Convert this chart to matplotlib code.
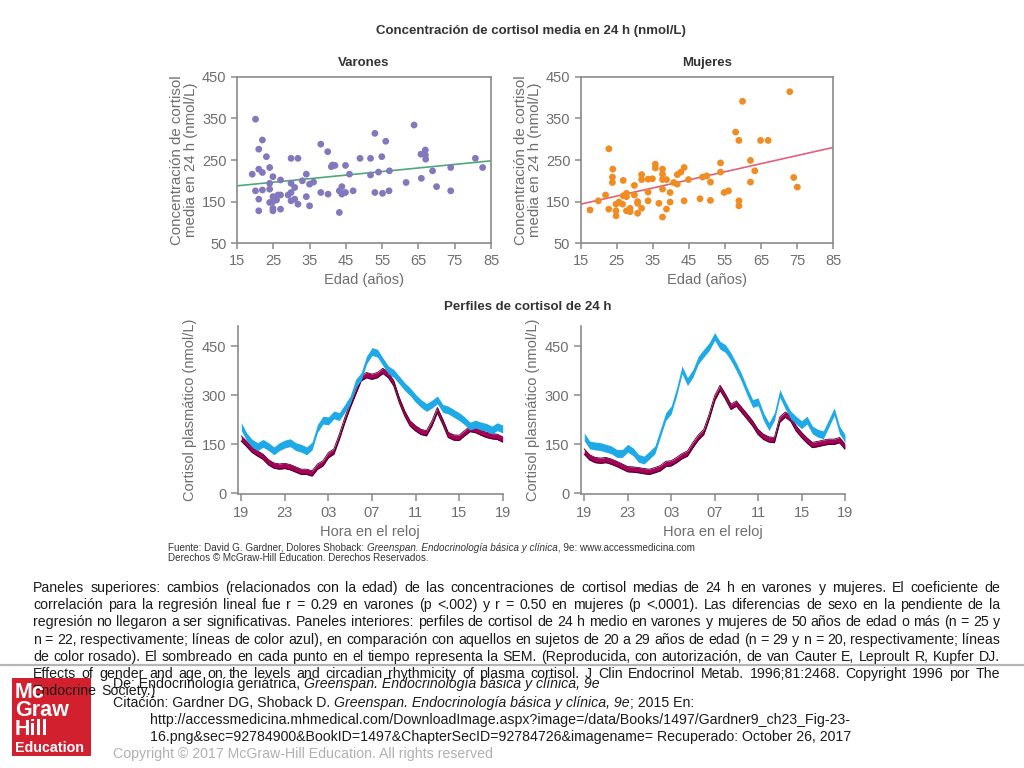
import matplotlib
matplotlib.use('Agg')
import matplotlib.pyplot as plt
from matplotlib.lines import Line2D
from matplotlib.patches import Rectangle

# ---------------- data ----------------
varones_edad = [19.2, 20.1, 20.1, 21.0, 21.0, 21.0, 21.0, 22.0, 22.0, 22.0, 23.1, 24.0, 24.0, 24.0, 24.0,
                24.9, 24.9, 24.9, 24.9, 24.9, 25.9, 25.9, 26.3, 27.0, 27.0, 27.0, 29.1, 29.9, 29.9, 29.9,
                29.9, 30.9, 30.9, 31.8, 31.8, 33.0, 34.1, 34.1, 35.0, 35.0, 36.1, 38.1, 38.1, 40.0, 40.1,
                41.0, 41.3, 42.0, 43.2, 43.2, 43.9, 43.9, 44.9, 44.9, 46.0, 47.0, 48.9, 51.8, 51.8, 53.0,
                53.0, 54.0, 54.9, 55.1, 56.0, 56.9, 57.0, 61.6, 63.8, 65.8, 65.7, 66.9, 66.9, 67.0, 68.9,
                70.0, 73.9, 73.9, 80.7, 82.7]
varones_cortisol = [216, 348, 176, 276, 228, 156, 128, 298, 220, 178, 258, 232, 194, 180, 148,
                    210, 162, 150, 134, 128, 162, 154, 166, 202, 166, 132, 166, 254, 194, 172,
                    152, 184, 156, 254, 144, 200, 216, 162, 192, 140, 197, 288, 172, 270, 168,
                    234, 238, 237, 176, 124, 186, 168, 237, 172, 216, 176, 254, 254, 214, 314,
                    172, 221, 258, 170, 295, 176, 224, 196, 334, 206, 264, 274, 262, 252, 224,
                    186, 232, 176, 254, 232]
varones_ajuste_x = [15, 85]
varones_ajuste_y = [188, 248]

mujeres_edad = [17.6, 19.9, 21.9, 22.8, 22.8, 23.9, 23.8, 23.8, 24.8, 24.8, 24.8, 25.6, 26.6, 26.8, 26.8,
                27.7, 27.7, 27.7, 28.7, 28.7, 29.9, 29.9, 30.8, 30.8, 30.8, 31.9, 31.9, 31.9, 33.7, 33.7,
                33.7, 34.9, 35.7, 35.7, 36.7, 37.7, 37.7, 37.7, 37.7, 37.7, 38.8, 38.8, 39.8, 39.8, 40.8,
                41.8, 41.8, 42.8, 43.7, 43.7, 44.9, 48.1, 48.8, 50.0, 51.0, 51.0, 53.8, 53.8, 54.8, 56.0,
                58.0, 58.9, 58.9, 58.9, 59.9, 62.1, 62.1, 63.3, 64.9, 67.0, 73.0, 74.1, 75.1]
mujeres_cortisol = [130, 152, 166, 277, 132, 228, 209, 196, 144, 128, 116, 149, 144, 201, 164,
                    170, 162, 128, 134, 126, 189, 166, 150, 146, 122, 215, 203, 134, 204, 173,
                    152, 205, 240, 231, 146, 228, 216, 203, 180, 113, 203, 132, 172, 149, 196,
                    215, 192, 221, 232, 152, 203, 157, 209, 212, 197, 153, 243, 221, 172, 176,
                    317, 297, 152, 140, 391, 249, 197, 224, 297, 297, 414, 208, 185]
mujeres_ajuste_x = [15, 85]
mujeres_ajuste_y = [144, 280]

hora = [0, 0.5, 1, 1.5, 2, 2.5, 3, 3.5, 4, 4.5, 5, 5.5, 6, 6.5, 7, 7.5, 8, 8.5, 9, 9.5,
        10, 10.5, 11, 11.5, 12, 12.5, 13, 13.5, 14, 14.5, 15, 15.5, 16, 16.5, 17, 17.5, 18, 18.5, 19, 19.5,
        20, 20.5, 21, 21.5, 22, 22.5, 23, 23.5, 24]
varones_mayores = [203, 172, 152, 142, 152, 142, 129, 142, 150, 154, 142, 137, 129, 144, 198, 223, 221, 239, 234, 259,
                   285, 336, 356, 407, 433, 428, 402, 377, 366, 346, 326, 310, 290, 274, 262, 272, 285, 259, 254, 244,
                   234, 221, 205, 211, 205, 201, 193, 203, 196]
varones_jovenes = [167, 150, 132, 121, 111, 94, 84, 81, 83, 79, 72, 65, 65, 60, 81, 91, 116, 127, 172, 223,
                   269, 310, 351, 361, 356, 361, 374, 361, 336, 285, 244, 213, 198, 187, 183, 213, 254, 218, 178, 170,
                   169, 183, 196, 193, 185, 178, 174, 172, 164]
mujeres_mayores = [172, 147, 144, 142, 137, 132, 121, 121, 137, 126, 106, 101, 116, 132, 183, 234, 254, 310, 377, 341,
                   366, 407, 428, 448, 479, 452, 442, 417, 386, 351, 310, 274, 279, 234, 203, 234, 305, 269, 239, 223,
                   209, 223, 193, 183, 178, 213, 249, 193, 167]
mujeres_jovenes = [127, 109, 101, 99, 101, 96, 89, 81, 73, 72, 70, 67, 65, 70, 76, 89, 91, 101, 113, 121,
                   147, 170, 187, 234, 290, 322, 295, 264, 274, 254, 234, 213, 187, 172, 164, 162, 225, 240, 228, 198,
                   178, 161, 147, 150, 154, 157, 157, 162, 142]
sem_mayores = 12
sem_jovenes = 8

edad_ticks = [15, 25, 35, 45, 55, 65, 75, 85]
conc_ticks = [50, 150, 250, 350, 450]
hora_ticks = [0, 4, 8, 12, 16, 20, 24]
hora_labels = ['19', '23', '03', '07', '11', '15', '19']
plasma_ticks = [0, 150, 300, 450]

# ---------------- style ----------------
FONT = ['Liberation Sans', 'DejaVu Sans']
plt.rcParams['font.family'] = FONT
GRAY_TXT = '#6e6e6e'
SPINE = '#8a8a8a'
BLUE = '#1fa9e6'
PINK = '#a8005a'
PINK_EDGE = '#4a0026'

W, H = 1024, 768
fig = plt.figure(figsize=(W / 100, H / 100), dpi=100)


def fx(p):
    return p / W


def fy(p):
    return 1 - p / H


def style_axes(ax, box=True):
    for s in ax.spines.values():
        s.set_color(SPINE)
        s.set_linewidth(1.2)
    if not box:
        ax.spines['top'].set_visible(False)
        ax.spines['right'].set_visible(False)
    ax.tick_params(colors=SPINE, labelcolor=GRAY_TXT, labelsize=10.5, length=4, width=1.1, direction='out')


# top scatter panels
axA = fig.add_axes([fx(237), fy(243.3), fx(491 - 237), (243.3 - 76.7) / H])
axB = fig.add_axes([fx(580.7), fy(243.3), fx(833 - 580.7), (243.3 - 76.7) / H])
ylab_top = 'Concentración de cortisol\nmedia en 24 h (nmol/L)'
for ax, ex, cy, fxv, fyv, col, lcol, ttl in [
        (axA, varones_edad, varones_cortisol, varones_ajuste_x, varones_ajuste_y, '#8378be', '#4fa878', 'Varones'),
        (axB, mujeres_edad, mujeres_cortisol, mujeres_ajuste_x, mujeres_ajuste_y, '#f08c22', '#e0607c', 'Mujeres')]:
    ax.scatter(ex, cy, s=24, color=col, edgecolors='none', zorder=3)
    ax.plot(fxv, fyv, color=lcol, lw=1.2, zorder=2)
    ax.set_xlim(15, 85)
    ax.set_ylim(50, 450)
    ax.set_xticks(edad_ticks)
    ax.set_yticks(conc_ticks)
    style_axes(ax, box=True)
    ax.set_xlabel('Edad (años)', fontsize=10.5, color=GRAY_TXT, labelpad=4)
    ax.set_ylabel(ylab_top, fontsize=10.8, color=GRAY_TXT, labelpad=3, linespacing=1.0)
    ax.set_title(ttl, fontsize=9.5, fontweight='bold', color='#333333', pad=8)

# bottom profile panels
axC = fig.add_axes([fx(238), fy(494), fx(502.7 - 238), (494 - 326.4) / H])
axD = fig.add_axes([fx(581), fy(494), fx(845 - 581), (494 - 326.4) / H])
for ax, old, young in [(axC, varones_mayores, varones_jovenes), (axD, mujeres_mayores, mujeres_jovenes)]:
    lo_o = [v - sem_mayores for v in old]
    hi_o = [v + sem_mayores for v in old]
    lo_y = [v - sem_jovenes for v in young]
    hi_y = [v + sem_jovenes for v in young]
    ax.fill_between(hora, lo_y, hi_y, color=PINK, lw=0, zorder=2)
    ax.plot(hora, lo_y, color=PINK_EDGE, lw=0.8, zorder=3)
    ax.plot(hora, hi_y, color=PINK_EDGE, lw=0.6, zorder=3)
    ax.fill_between(hora, lo_o, hi_o, color=BLUE, lw=0, zorder=4)
    ax.set_xlim(-0.3, 24)
    ax.set_ylim(-3, 510)
    ax.set_xticks(hora_ticks)
    ax.set_xticklabels(hora_labels)
    ax.set_yticks(plasma_ticks)
    style_axes(ax, box=False)
    ax.tick_params(length=5)
    ax.set_xlabel('Hora en el reloj', fontsize=10.5, color=GRAY_TXT, labelpad=4)
    ax.set_ylabel('Cortisol plasmático (nmol/L)', fontsize=10.5, color=GRAY_TXT, labelpad=3)

# titles
fig.text(fx(531), fy(31), 'Concentración de cortisol media en 24 h (nmol/L)', ha='center', va='center',
         fontsize=9.5, fontweight='bold', color='#333333')
fig.text(fx(528), fy(307), 'Perfiles de cortisol de 24 h', ha='center', va='center',
         fontsize=9.5, fontweight='bold', color='#333333')


def chain_text(x, y, parts, **kw):
    r = fig.canvas.get_renderer()
    cur = x
    for txt, st in parts:
        t = fig.text(cur, y, txt, style=st, va='baseline', ha='left', **kw)
        w = t.get_window_extent(r).width
        cur += w / W


src_kw = dict(fontsize=7.1, color='#333333')
chain_text(fx(168), fy(551), [('Fuente: David G. Gardner, Dolores Shoback: ', 'normal'),
                              ('Greenspan. Endocrinología básica y clínica', 'italic'),
                              (', 9e: www.accessmedicina.com', 'normal')], **src_kw)
fig.text(fx(168), fy(561), 'Derechos © McGraw-Hill Education. Derechos Reservados.', va='baseline', **src_kw)

# caption paragraph (justified)
caption_lines = [
    'Paneles superiores: cambios (relacionados con la edad) de las concentraciones de cortisol medias de 24 h en varones y mujeres. El coeficiente de',
    'correlación para la regresión lineal fue r = 0.29 en varones (p <.002) y r = 0.50 en mujeres (p <.0001). Las diferencias de sexo en la pendiente de la',
    'regresión no llegaron a ser significativas. Paneles interiores: perfiles de cortisol de 24 h medio en varones y mujeres de 50 años de edad o más (n = 25 y',
    'n = 22, respectivamente; líneas de color azul), en comparación con aquellos en sujetos de 20 a 29 años de edad (n = 29 y n = 20, respectivamente; líneas',
    'de color rosado). El sombreado en cada punto en el tiempo representa la SEM. (Reproducida, con autorización, de van Cauter E, Leproult R, Kupfer DJ.',
    'Effects of gender and age on the levels and circadian rhythmicity of plasma cortisol. J Clin Endocrinol Metab. 1996;81:2468. Copyright 1996 por The',
    'Endocrine Society.)',
]

cap_kw = dict(fontsize=10.2, color='#1a1a1a', family=['Liberation Sans Narrow', 'Liberation Sans', 'DejaVu Sans'])


def justify(text, x0, x1, y, justify_line=True):
    r = fig.canvas.get_renderer()
    words = text.split(' ')
    objs = [fig.text(0, y, w, va='center', ha='left', **cap_kw) for w in words]
    widths = [o.get_window_extent(r).width for o in objs]
    if justify_line and len(words) > 1:
        gap = ((x1 - x0) - sum(widths)) / (len(words) - 1)
    else:
        gap = objs[0].get_fontsize() * 100 / 72 * 0.28
    cur = x0
    for o, w in zip(objs, widths):
        o.set_x(cur / W)
        cur += w + gap


# separator line
fig.add_artist(Line2D([0, 1], [fy(664.5), fy(664.5)], color='#b5b5b5', lw=1.6))

for i, line in enumerate(caption_lines):
    justify(line, 33, 1000, fy(588 + i * 17.2), justify_line=(i < len(caption_lines) - 1))

# logo
fig.add_artist(Rectangle((fx(12), fy(756)), fx(91 - 12), (756 - 678) / H, color='#d3202f', lw=0))
for txt, yy, sz in [('Mc', 693, 15.5), ('Graw', 711, 15.5), ('Hill', 729.5, 15.5), ('Education', 747.5, 10.3)]:
    fig.text(fx(15), fy(yy), txt, color='white', fontsize=sz, fontweight='bold', va='center', ha='left')

# citation block
cit_kw = dict(fontsize=10.2, color='#1a1a1a', family=['Liberation Sans Narrow', 'Liberation Sans', 'DejaVu Sans'])
chain_text(fx(113), fy(688), [('De: Endocrinología geriátrica, ', 'normal'),
                              ('Greenspan. Endocrinología básica y clínica, 9e', 'italic')], **cit_kw)
chain_text(fx(113), fy(707), [('Citación: Gardner DG, Shoback D. ', 'normal'),
                              ('Greenspan. Endocrinología básica y clínica, 9e', 'italic'),
                              ('; 2015 En:', 'normal')], **cit_kw)
fig.text(fx(150), fy(724), 'http://accessmedicina.mhmedical.com/DownloadImage.aspx?image=/data/Books/1497/Gardner9_ch23_Fig-23-',
         va='baseline', **cit_kw)
fig.text(fx(150), fy(741), '16.png&sec=92784900&BookID=1497&ChapterSecID=92784726&imagename= Recuperado: October 26, 2017',
         va='baseline', **cit_kw)
fig.text(fx(113), fy(758), 'Copyright © 2017 McGraw-Hill Education. All rights reserved', va='baseline',
         fontsize=10.2, color='#b0b0b0', family=['Liberation Sans Narrow', 'Liberation Sans', 'DejaVu Sans'])

fig.savefig('out.png', dpi=100)
